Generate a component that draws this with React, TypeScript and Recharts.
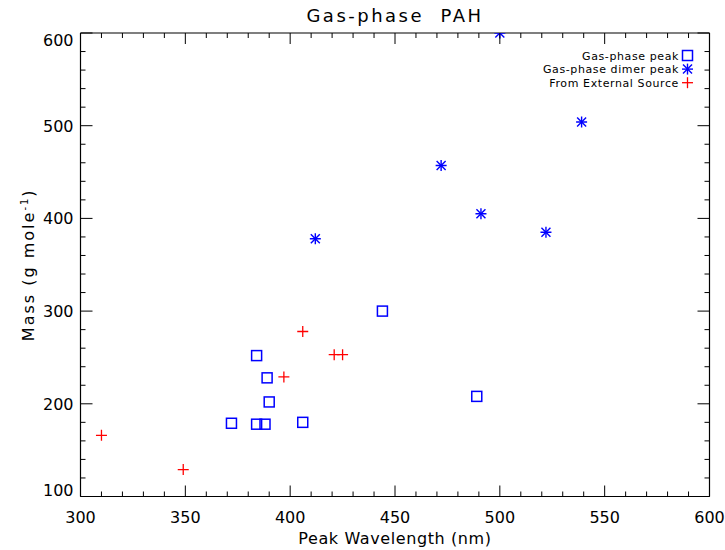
import { ScatterChart, Scatter, XAxis, YAxis } from 'recharts';

// peak wavelength (nm) / mass (g mole^-1)
const gasPhaseWavelength = [372, 384, 384, 388, 389, 390, 406, 444, 489];
const gasPhaseMass = [179, 252, 178, 178, 228, 202, 180, 300, 208];

const dimerWavelength = [412, 472, 491, 522, 539, 500];
const dimerMass = [378, 457, 405, 385, 504, 600];

const externalWavelength = [310, 349, 397, 406, 421, 425];
const externalMass = [166, 129, 229, 278, 253, 253];

const xLabelTicks = [300, 350, 400, 450, 500, 550, 600];
const yLabelTicks = [100, 200, 300, 400, 500, 600];
const X_MINOR = 10;
const Y_MINOR = 20;

const legendItems = ['Gas-phase peak', 'Gas-phase dimer peak', 'From External Source'];

const BLUE = '#0000ff';
const RED = '#ff0000';
const FONT = '"DejaVu Sans", sans-serif';

const W = 725;
const H = 550;
const LEFT = 80.5;
const RIGHT = 709.5;
const TOP = 33;
const BOTTOM = 496.5;
// axes are 1px thick (recharts skips axes of zero size)
const AX = 1;

function minorTicks(labels: number[], step: number) {
  const out: number[] = [];
  for (let v = labels[0]; v <= labels[labels.length - 1]; v += step) out.push(v);
  return out;
}
const xTicks = minorTicks(xLabelTicks, X_MINOR);
const yTicks = minorTicks(yLabelTicks, Y_MINOR);

const toPoints = (xs: number[], ys: number[]) => xs.map((x, i) => ({ x, y: ys[i] }));

const isXMajor = (v: number) => xLabelTicks.includes(v);
const isYMajor = (v: number) => yLabelTicks.includes(v);

function SquareMark({ cx, cy }: any) {
  return <rect x={cx - 5} y={cy - 5} width={10} height={10} fill="none" stroke={BLUE} strokeWidth={1.5} />;
}

function StarMark({ cx, cy }: any) {
  const r = 5.5;
  const d = 4.5;
  return (
    <g stroke={BLUE} strokeWidth={1.4}>
      <line x1={cx - r} y1={cy} x2={cx + r} y2={cy} />
      <line x1={cx} y1={cy - r} x2={cx} y2={cy + r} />
      <line x1={cx - d} y1={cy - d} x2={cx + d} y2={cy + d} />
      <line x1={cx - d} y1={cy + d} x2={cx + d} y2={cy - d} />
    </g>
  );
}

function PlusMark({ cx, cy }: any) {
  const r = 5.5;
  return (
    <g stroke={RED} strokeWidth={1.3}>
      <line x1={cx - r} y1={cy} x2={cx + r} y2={cy} />
      <line x1={cx} y1={cy - r} x2={cx} y2={cy + r} />
    </g>
  );
}

function BottomTick({ x, y, payload }: any) {
  const major = isXMajor(payload.value);
  return (
    <g>
      <line x1={x} y1={y} x2={x} y2={y - (major ? 11 : 5)} stroke="#000" />
      {major && (
        <text x={x} y={y + 26} textAnchor="middle" fontSize={16} fontFamily={FONT} fill="#000">
          {payload.value}
        </text>
      )}
    </g>
  );
}

function TopTick({ x, y, payload }: any) {
  const major = isXMajor(payload.value);
  return <line x1={x} y1={y} x2={x} y2={y + (major ? 11 : 5)} stroke="#000" />;
}

function LeftTick({ x, y, payload }: any) {
  const major = isYMajor(payload.value);
  // end labels are kept inside the box, like the original
  const labelY = Math.min(Math.max(y, TOP + 6.5), BOTTOM - 6.5);
  return (
    <g>
      <line x1={x} y1={y} x2={x + (major ? 12 : 5)} y2={y} stroke="#000" />
      {major && (
        <text x={x - 7} y={labelY + 6} textAnchor="end" fontSize={16} fontFamily={FONT} fill="#000">
          {payload.value}
        </text>
      )}
    </g>
  );
}

function RightTick({ x, y, payload }: any) {
  const major = isYMajor(payload.value);
  return <line x1={x} y1={y} x2={x - (major ? 12 : 5)} y2={y} stroke="#000" />;
}

const legendMarks = [SquareMark, StarMark, PlusMark];

const axisCommon = {
  type: 'number' as const,
  allowDataOverflow: true,
  interval: 0 as const,
  tickSize: 0,
  tickMargin: 0,
  tickLine: false,
  axisLine: { stroke: '#000', strokeWidth: 1.2 },
};

export default function App() {
  return (
    <div style={{ position: 'absolute', left: 0, top: 0, width: W, height: H, background: '#fff' }}>
      <ScatterChart
        width={W}
        height={H}
        margin={{ top: TOP - AX, left: LEFT - AX, right: W - RIGHT - AX, bottom: H - BOTTOM - AX }}
      >
        <XAxis
          {...axisCommon}
          xAxisId="b"
          dataKey="x"
          orientation="bottom"
          domain={[300, 600]}
          ticks={xTicks}
          height={AX}
          tick={BottomTick}
        />
        <XAxis
          {...axisCommon}
          xAxisId="t"
          dataKey="x"
          orientation="top"
          domain={[300, 600]}
          ticks={xTicks}
          height={AX}
          tick={TopTick}
        />
        <YAxis
          {...axisCommon}
          yAxisId="l"
          dataKey="y"
          orientation="left"
          domain={[100, 600]}
          ticks={yTicks}
          width={AX}
          tick={LeftTick}
        />
        <YAxis
          {...axisCommon}
          yAxisId="r"
          dataKey="y"
          orientation="right"
          domain={[100, 600]}
          ticks={yTicks}
          width={AX}
          tick={RightTick}
        />
        <Scatter
          name={legendItems[0]}
          data={toPoints(gasPhaseWavelength, gasPhaseMass)}
          xAxisId="b"
          yAxisId="l"
          shape={SquareMark}
          isAnimationActive={false}
        />
        <Scatter
          name={legendItems[1]}
          data={toPoints(dimerWavelength, dimerMass)}
          xAxisId="b"
          yAxisId="l"
          shape={StarMark}
          isAnimationActive={false}
        />
        <Scatter
          name={legendItems[2]}
          data={toPoints(externalWavelength, externalMass)}
          xAxisId="b"
          yAxisId="l"
          shape={PlusMark}
          isAnimationActive={false}
        />

        <text
          x={(LEFT + RIGHT) / 2}
          y={21.5}
          textAnchor="middle"
          fontSize={18}
          fontFamily={FONT}
          letterSpacing={2.5}
          style={{ whiteSpace: 'pre' }}
        >
          {'Gas-phase  PAH'}
        </text>
        <text
          x={(LEFT + RIGHT) / 2}
          y={543.5}
          textAnchor="middle"
          fontSize={16}
          fontFamily={FONT}
          letterSpacing={0.6}
        >
          Peak Wavelength (nm)
        </text>
        <text
          transform={`translate(34, ${(TOP + BOTTOM) / 2}) rotate(-90)`}
          textAnchor="middle"
          fontSize={16}
          fontFamily={FONT}
          letterSpacing={2}
        >
          Mass (g mole
          <tspan fontSize={10} dy={-6}>-1</tspan>
          <tspan dy={6}>)</tspan>
        </text>

        {legendItems.map((label, i) => {
          const cy = 55.5 + i * 13.6;
          const Mark = legendMarks[i];
          return (
            <g key={label}>
              <text x={679} y={cy + 4} textAnchor="end" fontSize={11} fontFamily={FONT} letterSpacing={0.6}>
                {label}
              </text>
              <Mark cx={687.5} cy={cy} />
            </g>
          );
        })}
      </ScatterChart>
    </div>
  );
}
